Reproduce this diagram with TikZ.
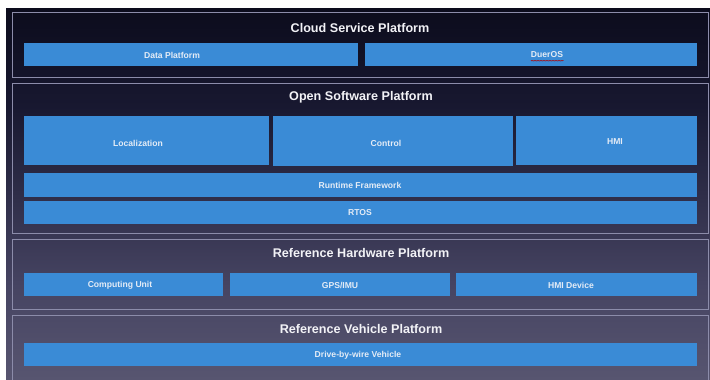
\documentclass[tikz,border=0pt]{standalone}
\usepackage{fontspec}
\setmainfont{Liberation Sans}
\usetikzlibrary{decorations.pathmorphing}
\definecolor{bgA}{HTML}{727086}
\definecolor{bgB}{HTML}{5C5A74}
\definecolor{bgC}{HTML}{464462}
\definecolor{bgD}{HTML}{181830}
\definecolor{bgE}{HTML}{070714}
\definecolor{bgF}{HTML}{020204}
\definecolor{boxblue}{HTML}{3A8BD6}
\definecolor{panelline}{HTML}{8C8CAA}
\definecolor{labeltext}{HTML}{E4ECF6}
\definecolor{titletext}{HTML}{F2F2F6}
\pgfdeclareverticalshading{bgshade}{100bp}{color(0bp)=(bgA); color(2.7bp)=(bgA); color(21.5bp)=(bgB); color(37.6bp)=(bgC); color(61.8bp)=(bgD); color(80.6bp)=(bgE); color(100bp)=(bgF)}
\tikzset{
  panel/.style={draw=panelline, line width=0.6pt},
  bluebox/.style={fill=boxblue, draw=none},
  boxlabel/.style={text=labeltext, font=\bfseries\fontsize{8.6}{10}\selectfont, inner sep=0pt},
  paneltitle/.style={text=titletext, font=\bfseries\fontsize{12.6}{14}\selectfont, inner sep=0pt},
}
\begin{document}
\begin{tikzpicture}[x=1pt, y=-1pt]
\useasboundingbox (0,0) rectangle (710,380);
\fill[white] (0,0) rectangle (710,380);
\shade[shading=bgshade] (6,8) rectangle (710,380);
\begin{scope}
\clip (6,8) rectangle (710,380);
% panels
\draw[panel] (12,12) rectangle (708,77);
\draw[panel] (12,83) rectangle (708,233);
\draw[panel] (12,239) rectangle (708,309);
\draw[panel] (12,315) rectangle (708,390);
\end{scope}
% titles
\node[paneltitle] (tcloud) at (360,28) {Cloud Service Platform};
\node[paneltitle] (topen) at (361,97) {Open Software Platform};
\node[paneltitle] (thw) at (361,253) {Reference Hardware Platform};
\node[paneltitle] (tveh) at (361,329) {Reference Vehicle Platform};
% cloud boxes
\fill[bluebox] (24,43) rectangle (358,66);
\node[boxlabel] (ldata) at (172,55) {Data Platform};
\fill[bluebox] (365,43) rectangle (697,66);
\node[boxlabel] (lduer) at (547,55) {DuerOS};
\draw[red!70!black, line width=0.35pt, decorate, decoration={snake, segment length=1.5pt, amplitude=0.4pt}] (lduer.south west) ++(0,2.5) -- ++(33,0);
% open software boxes
\fill[bluebox] (24,116) rectangle (269,165);
\node[boxlabel] (lloc) at (138,143) {Localization};
\fill[bluebox] (273,116) rectangle (513,166);
\node[boxlabel] (lctrl) at (386,143) {Control};
\fill[bluebox] (516,116) rectangle (697,165);
\node[boxlabel] (lhmi) at (615,142) {HMI};
\fill[bluebox] (24,173) rectangle (697,197);
\node[boxlabel] (lrun) at (360,185) {Runtime Framework};
\fill[bluebox] (24,201) rectangle (697,224);
\node[boxlabel] (lrtos) at (360,213) {RTOS};
% hardware boxes
\fill[bluebox] (24,273) rectangle (223,296);
\node[boxlabel] (lcomp) at (120,285) {Computing Unit};
\fill[bluebox] (230,273) rectangle (450,296);
\node[boxlabel] (lgps) at (340,285) {GPS/IMU};
\fill[bluebox] (456,273) rectangle (697,296);
\node[boxlabel] (lhmid) at (571,285) {HMI Device};
% vehicle
\fill[bluebox] (24,343) rectangle (697,366);
\node[boxlabel] (ldbw) at (358,355) {Drive-by-wire Vehicle};
\end{tikzpicture}
\end{document}
